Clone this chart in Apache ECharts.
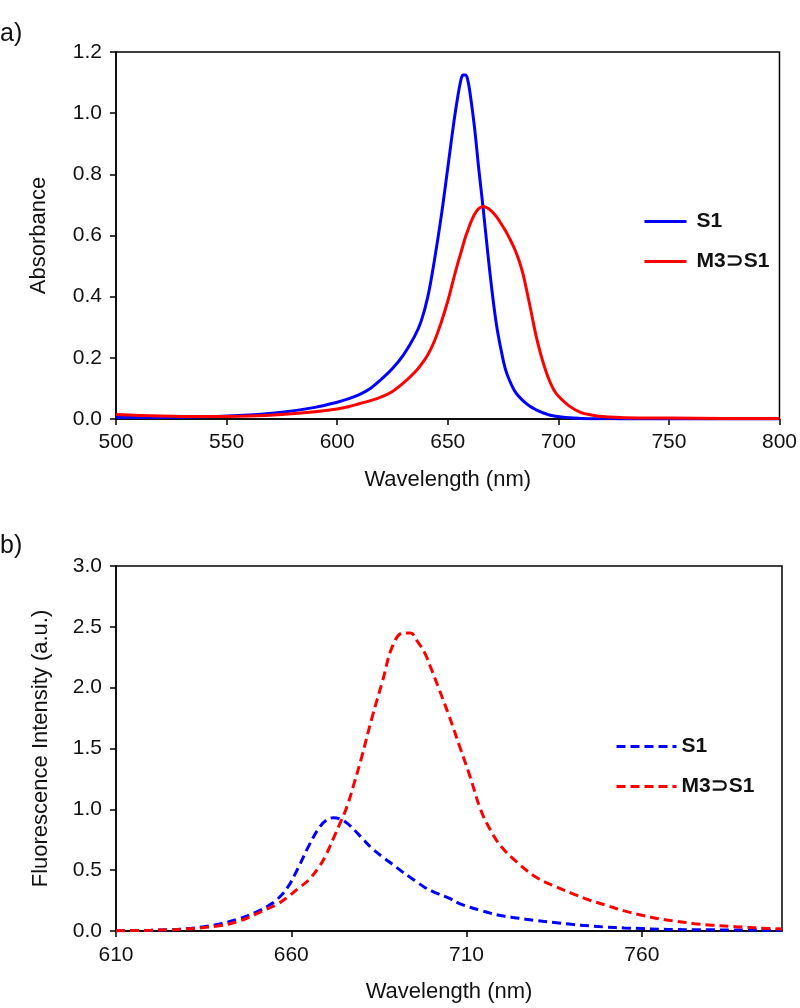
<!DOCTYPE html>
<html>
<head>
<meta charset="utf-8">
<script src="https://cdn.jsdelivr.net/npm/echarts@6/dist/echarts.min.js"></script>
<style>
  body { margin: 0; background: #fff; }
  #wrap { position: relative; width: 800px; height: 1008px; }
  #absChart { position: absolute; left: 0; top: 0; width: 800px; height: 500px; }
  #fluChart { position: absolute; left: 0; top: 500px; width: 800px; height: 508px; }
</style>
</head>
<body>
<div id="wrap">
  <div id="absChart"></div>
  <div id="fluChart"></div>
</div>
<script>
  // a) absorbance spectra
  const absWl = [500, 520, 540, 560, 575, 590, 600, 605, 610, 615, 620, 625, 630, 635, 638, 641, 644, 647, 650, 652, 654, 656, 657, 658, 659, 660, 662, 664, 666, 668, 670, 672, 674, 676, 678, 680, 682, 684, 686, 688, 690, 692, 694, 696, 698, 700, 705, 710, 715, 720, 730, 750, 775, 800];
  const absS1 = [0.005, 0.005, 0.007, 0.013, 0.022, 0.038, 0.055, 0.066, 0.08, 0.1, 0.13, 0.165, 0.21, 0.27, 0.32, 0.4, 0.52, 0.66, 0.82, 0.93, 1.03, 1.11, 1.125, 1.125, 1.11, 1.07, 0.96, 0.82, 0.69, 0.55, 0.42, 0.31, 0.23, 0.165, 0.125, 0.095, 0.075, 0.06, 0.048, 0.038, 0.03, 0.023, 0.018, 0.013, 0.01, 0.008, 0.004, 0.002, 0.001, 0.001, 0, 0, 0, 0];
  const absM3S1 = [0.015, 0.01, 0.008, 0.01, 0.015, 0.024, 0.033, 0.04, 0.05, 0.06, 0.072, 0.09, 0.118, 0.152, 0.178, 0.21, 0.255, 0.315, 0.385, 0.44, 0.495, 0.545, 0.57, 0.595, 0.615, 0.635, 0.668, 0.688, 0.695, 0.69, 0.678, 0.662, 0.64, 0.617, 0.59, 0.56, 0.523, 0.475, 0.41, 0.34, 0.27, 0.213, 0.165, 0.125, 0.095, 0.075, 0.042, 0.022, 0.013, 0.008, 0.004, 0.003, 0.002, 0.002];

  // b) fluorescence spectra
  const fluWl = [610, 615, 620, 625, 630, 635, 640, 645, 650, 653, 656, 659, 662, 665, 668, 670, 672, 674, 676, 678, 680, 683, 686, 689, 692, 694, 696, 698, 700, 702, 705, 708, 711, 714, 717, 720, 725, 730, 735, 740, 745, 750, 755, 760, 765, 770, 775, 780, 785, 790, 795, 800];
  const fluS1 = [0.002, 0.004, 0.006, 0.01, 0.018, 0.035, 0.06, 0.1, 0.155, 0.2, 0.26, 0.36, 0.52, 0.7, 0.85, 0.91, 0.93, 0.92, 0.885, 0.83, 0.77, 0.68, 0.61, 0.545, 0.48, 0.44, 0.4, 0.36, 0.33, 0.305, 0.27, 0.225, 0.195, 0.17, 0.145, 0.125, 0.105, 0.085, 0.07, 0.055, 0.042, 0.032, 0.025, 0.02, 0.015, 0.012, 0.01, 0.01, 0.008, 0.008, 0.007, 0.007];
  const fluM3S1 = [0.003, 0.004, 0.006, 0.01, 0.016, 0.028, 0.045, 0.08, 0.14, 0.18, 0.22, 0.28, 0.35, 0.42, 0.53, 0.63, 0.76, 0.89, 1.03, 1.22, 1.42, 1.75, 2.05, 2.35, 2.45, 2.45, 2.38, 2.29, 2.15, 2.0, 1.77, 1.52, 1.27, 1.0, 0.82, 0.69, 0.55, 0.44, 0.37, 0.31, 0.255, 0.21, 0.165, 0.13, 0.1, 0.08, 0.06, 0.048, 0.038, 0.03, 0.022, 0.016];

  const absTicks = [500, 550, 600, 650, 700, 750, 800];
  const fluTicks = [610, 660, 710, 760];
  const seriesNames = ['S1', 'M3⊃S1'];

  const font = 'Liberation Sans, Arial, sans-serif';
  const pair = (xs, ys) => xs.map((x, i) => [x, ys[i]]);

  function axisBase() {
    return {
      axisLine: { lineStyle: { color: '#000', width: 1.5 } },
      axisTick: { show: true, length: 6, lineStyle: { color: '#000', width: 1.5 } },
      axisLabel: { color: '#111', fontSize: 21, fontFamily: font },
      splitLine: { show: false },
      nameTextStyle: { color: '#111', fontSize: 22, fontFamily: font },
    };
  }

  function lineSeries(name, data, color, dashed) {
    return {
      name: name,
      type: 'line',
      data: data,
      showSymbol: false,
      symbol: 'none',
      smooth: 0.4,
      lineStyle: { color: color, width: 3, type: dashed ? [9, 5] : 'solid' },
      itemStyle: { color: color },
      animation: false,
    };
  }

  // 上图：吸收光谱
  const absOption = {
    animation: false,
    grid: { left: 116, right: 20, top: 52, bottom: 81, show: true, borderColor: '#000', borderWidth: 1.5 },
    graphic: [{ type: 'text', left: 0, top: 22, style: { text: 'a)', fontSize: 25, fontFamily: font, fill: '#111' } }],
    legend: {
      data: seriesNames,
      orient: 'vertical',
      left: 638,
      top: 206,
      itemWidth: 42,
      itemHeight: 20,
      itemGap: 19,
      itemStyle: { opacity: 0 },
      lineStyle: { width: 3 },
      textStyle: { fontSize: 21, fontWeight: 'bold', fontFamily: font, color: '#111', padding: [0, 0, 0, 5] },
    },
    xAxis: Object.assign(axisBase(), {
      type: 'value', min: 500, max: 800, interval: 50,
      name: 'Wavelength (nm)', nameLocation: 'middle', nameGap: 50,
    }),
    yAxis: Object.assign(axisBase(), {
      type: 'value', min: 0, max: 1.2, interval: 0.2,
      name: 'Absorbance', nameLocation: 'middle', nameGap: 66,
    }),
    series: [
      lineSeries(seriesNames[0], pair(absWl, absS1), '#0000ff', false),
      lineSeries(seriesNames[1], pair(absWl, absM3S1), '#ff0000', false),
    ],
  };
  absOption.xAxis.axisLabel = Object.assign({}, absOption.xAxis.axisLabel, { margin: 13 });
  absOption.yAxis.axisLabel = Object.assign({}, absOption.yAxis.axisLabel, { margin: 14, formatter: v => v.toFixed(1) });

  // 下图：荧光光谱
  const fluOption = {
    animation: false,
    grid: { left: 116, right: 18, top: 66, bottom: 74, show: true, borderColor: '#000', borderWidth: 1.5 },
    graphic: [{ type: 'text', left: 0, top: 34, style: { text: 'b)', fontSize: 25, fontFamily: font, fill: '#111' } }],
    legend: {
      data: seriesNames,
      orient: 'vertical',
      left: 610,
      top: 231,
      itemWidth: 60,
      itemHeight: 20,
      itemGap: 19,
      itemStyle: { opacity: 0 },
      lineStyle: { width: 3 },
      textStyle: { fontSize: 21, fontWeight: 'bold', fontFamily: font, color: '#111' },
    },
    xAxis: Object.assign(axisBase(), {
      type: 'value', min: 610, max: 800,
      name: 'Wavelength (nm)', nameLocation: 'middle', nameGap: 50,
    }),
    yAxis: Object.assign(axisBase(), {
      type: 'value', min: 0, max: 3, interval: 0.5,
      name: 'Fluorescence Intensity (a.u.)', nameLocation: 'middle', nameGap: 64,
    }),
    series: [
      lineSeries(seriesNames[0], pair(fluWl, fluS1), '#0000ff', true),
      lineSeries(seriesNames[1], pair(fluWl, fluM3S1), '#ff0000', true),
    ],
  };
  fluOption.xAxis.axisTick = Object.assign({}, fluOption.xAxis.axisTick, { customValues: fluTicks });
  fluOption.xAxis.axisLabel = Object.assign({}, fluOption.xAxis.axisLabel, { margin: 14, customValues: fluTicks });
  fluOption.yAxis.axisLabel = Object.assign({}, fluOption.yAxis.axisLabel, { margin: 14, formatter: v => v.toFixed(1) });

  const absChart = echarts.init(document.getElementById('absChart'));
  absChart.setOption(absOption);
  const fluChart = echarts.init(document.getElementById('fluChart'));
  fluChart.setOption(fluOption);
</script>
</body>
</html>
